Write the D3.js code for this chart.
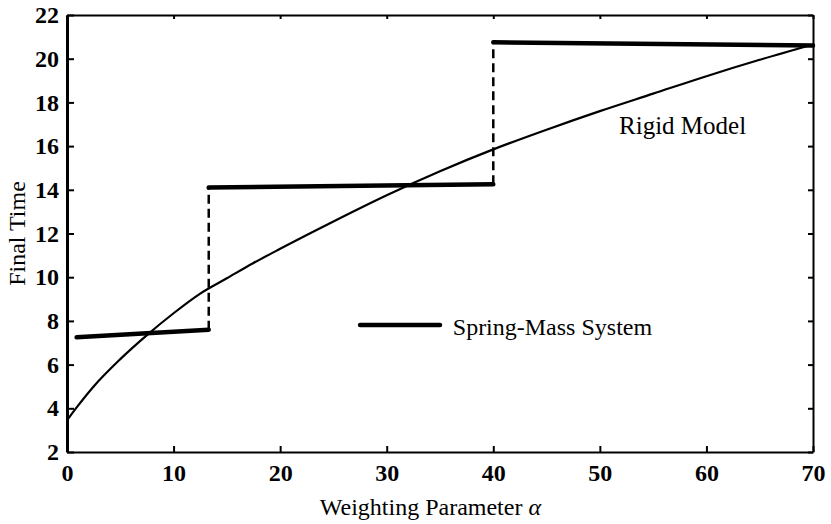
<!DOCTYPE html>
<html>
<head>
<meta charset="utf-8">
<script src="https://cdn.jsdelivr.net/npm/d3@7"></script>
<style>
  body { margin: 0; background: #fff; }
  svg text { font-family: "Liberation Serif", "Times New Roman", serif; fill: #000; }
</style>
</head>
<body>
<div id="chart"></div>
<script>
'use strict'

// rigid model curve: [alpha, final time]
const rigidAlpha = [0, 1, 2.5, 5, 7.5, 10, 12.5, 15, 17.5, 20, 25, 30, 35, 40, 45, 50, 55, 60, 65, 70]
const rigidTime  = [3.45, 4.1, 5.0, 6.25, 7.35, 8.35, 9.25, 9.95, 10.65, 11.3, 12.55, 13.75, 14.85, 15.85, 16.75, 17.6, 18.4, 19.2, 19.95, 20.65]

// spring-mass system: piecewise segments (start alpha, end alpha, start time, end time)
const smStart     = [0.9, 13.3, 40]
const smEnd       = [13.3, 40, 70]
const smTimeStart = [7.25, 14.1, 20.75]
const smTimeEnd   = [7.6, 14.25, 20.6]

const xTicks = [0, 10, 20, 30, 40, 50, 60, 70]
const yTicks = [2, 4, 6, 8, 10, 12, 14, 16, 18, 20, 22]

const svgWidth = 831, svgHeight = 524
const margin = { left: 67, right: 18, top: 15, bottom: 72 }
const width = svgWidth - margin.left - margin.right
const height = svgHeight - margin.top - margin.bottom
const serif = '"Liberation Serif", "Times New Roman", serif'

const svg = d3.select('#chart')
    .append('svg')
    .attr('width', svgWidth)
    .attr('height', svgHeight)

const g = svg.append('g')
    .attr('transform', `translate(${margin.left},${margin.top})`)

const x = d3.scaleLinear().domain([0, 70]).range([0, width])
const y = d3.scaleLinear().domain([2, 22]).range([height, 0])

////////////////////////////////////
/////////////// axes ///////////////
////////////////////////////////////

const xAxis = g.append('g')
    .attr('transform', `translate(0,${height})`)
    .call(d3.axisBottom(x).tickValues(xTicks).tickSizeInner(-6).tickSizeOuter(0).tickPadding(12))
const yAxis = g.append('g')
    .call(d3.axisLeft(y).tickValues(yTicks).tickSizeInner(-7).tickSizeOuter(0).tickPadding(8))
const xTop = g.append('g')
    .call(d3.axisTop(x).tickValues(xTicks).tickSizeInner(-4).tickSizeOuter(0).tickFormat(''))
const yRight = g.append('g')
    .attr('transform', `translate(${width},0)`)
    .call(d3.axisRight(y).tickValues(yTicks).tickSizeInner(-5).tickSizeOuter(0).tickFormat(''))

;[xAxis, yAxis, xTop, yRight].forEach(a => {
    a.attr('font-family', serif).attr('font-size', 24)
    a.select('.domain').attr('stroke', '#000').attr('stroke-width', 2)
    a.selectAll('.tick line').attr('stroke', '#000').attr('stroke-width', 2)
})
yAxis.select('.domain').attr('stroke-width', 3)

g.selectAll('.tick text')
    .attr('font-weight', 'bold')
    .attr('fill', '#000')

// axis titles
g.append('text')
    .attr('x', x(34.1))
    .attr('y', height + 63)
    .attr('text-anchor', 'middle')
    .style('font-size', '24px')
    .html('Weighting Parameter <tspan font-style="italic">&#945;</tspan>')

g.append('text')
    .attr('transform', `translate(${-42},${height / 2}) rotate(-90)`)
    .attr('text-anchor', 'middle')
    .style('font-size', '24px')
    .text('Final Time')

////////////////////////////////////
/////////////// data ///////////////
////////////////////////////////////

const rigid = rigidAlpha.map((a, i) => ({ a: a, t: rigidTime[i] }))

const line = d3.line()
    .x(d => x(d.a))
    .y(d => y(d.t))
    .curve(d3.curveMonotoneX)

g.append('path')
    .datum(rigid)
    .attr('fill', 'none')
    .attr('stroke', '#000')
    .attr('stroke-width', 2.2)
    .attr('d', line)

const segs = smStart.map((s, i) => ({ x0: s, x1: smEnd[i], t0: smTimeStart[i], t1: smTimeEnd[i] }))

// dashed jumps between segments
const jumps = segs.slice(1).map((d, i) => ({ a: d.x0, from: segs[i].t1, to: d.t0 }))

g.selectAll('.jump')
    .data(jumps)
    .join('line')
    .attr('class', 'jump')
    .attr('x1', d => x(d.a))
    .attr('x2', d => x(d.a))
    .attr('y1', d => y(d.from))
    .attr('y2', d => y(d.to))
    .attr('stroke', '#000')
    .attr('stroke-width', 2.5)
    .attr('stroke-dasharray', '9,5')

g.selectAll('.seg')
    .data(segs)
    .join('line')
    .attr('class', 'seg')
    .attr('x1', d => x(d.x0))
    .attr('x2', d => x(d.x1))
    .attr('y1', d => y(d.t0))
    .attr('y2', d => y(d.t1))
    .attr('stroke', '#000')
    .attr('stroke-width', 4.5)
    .attr('stroke-linecap', 'round')

////////////////////////////////////
////////////// labels //////////////
////////////////////////////////////

g.append('line')
    .attr('x1', x(27.5))
    .attr('x2', x(35))
    .attr('y1', y(7.81))
    .attr('y2', y(7.81))
    .attr('stroke', '#000')
    .attr('stroke-width', 4.5)
    .attr('stroke-linecap', 'round')

g.append('text')
    .attr('x', x(36.2))
    .attr('y', y(7.35))
    .style('font-size', '24px')
    .text('Spring-Mass System')

g.append('text')
    .attr('x', x(51.8))
    .attr('y', y(16.55))
    .style('font-size', '25px')
    .text('Rigid Model')
</script>
</body>
</html>
